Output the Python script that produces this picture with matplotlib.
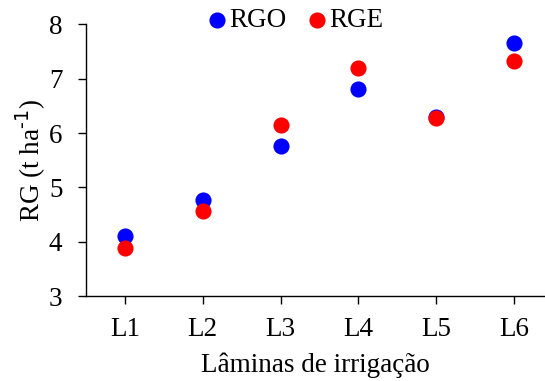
import matplotlib.pyplot as plt

plt.rcParams['font.family'] = ['Liberation Serif', 'DejaVu Serif']

laminas = ['L1', 'L2', 'L3', 'L4', 'L5', 'L6']
rgo = [4.10, 4.77, 5.76, 6.81, 6.30, 7.65]
rge = [3.89, 4.56, 6.14, 7.20, 6.27, 7.32]

fs = 19.5

fig = plt.figure(figsize=(5.45, 3.81), dpi=100)
ax = fig.add_axes([0.158, 0.223, 0.842, 0.713])

x = range(1, len(laminas) + 1)
ax.scatter(x, rgo, s=135, color='#0000ff', label='RGO', zorder=3, linewidths=0)
ax.scatter(x, rge, s=135, color='#ff0000', label='RGE', zorder=4, linewidths=0)

ax.set_xlim(0.5, 6.4)
ax.set_ylim(3, 8)
ax.set_xticks(list(x))
ax.set_xticklabels(laminas)
ax.set_yticks(range(3, 9))

for side in ('top', 'right'):
    ax.spines[side].set_visible(False)
for side in ('left', 'bottom'):
    ax.spines[side].set_linewidth(1.0)
ax.tick_params(direction='out', length=6, width=1.0, labelsize=fs)
ax.tick_params(axis='x', pad=9)
ax.tick_params(axis='y', pad=11)

ax.set_xlabel('Lâminas de irrigação', fontsize=fs, labelpad=8)
ax.set_ylabel('RG (t ha$^{\\text{-1}}$)', fontsize=fs, labelpad=1)

ax.legend(loc='center', bbox_to_anchor=(0.455, 1.013), ncol=2, frameon=False,
          fontsize=fs, handletextpad=0.05, handlelength=0.8, columnspacing=0.72,
          borderpad=0, scatterpoints=1)

fig.savefig('out.png', dpi=100)
